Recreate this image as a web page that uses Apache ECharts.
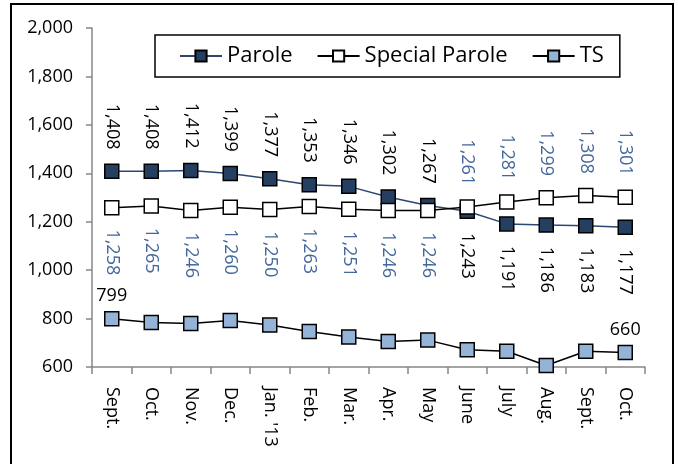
<!DOCTYPE html>
<html>
<head>
<meta charset="utf-8">
<script src="https://cdn.jsdelivr.net/npm/echarts@6/dist/echarts.min.js"></script>
<style>
  html, body { margin: 0; padding: 0; background: #fff; }
  #chart { width: 678px; height: 464px; }
</style>
</head>
<body>
<div id="chart"></div>
<script>
var months = ['Sept.', 'Oct.', 'Nov.', 'Dec.', 'Jan. \'13', 'Feb.', 'Mar.', 'Apr.', 'May', 'June', 'July', 'Aug.', 'Sept.', 'Oct.'];
var parole = [1408, 1408, 1412, 1399, 1377, 1353, 1346, 1302, 1267, 1243, 1191, 1186, 1183, 1177];
var specialParole = [1258, 1265, 1246, 1260, 1250, 1263, 1251, 1246, 1246, 1261, 1281, 1299, 1308, 1301];
var ts = [799, 784, 780, 792, 773, 747, 724, 705, 711, 671, 665, 606, 665, 660];

var FONT = 'Open Sans';

var fmt = function(v){
	return String(v).replace(/\B(?=(\d{3})+(?!\d))/g, ',');
};

// label goes above for the higher of the two parole series, below for the lower
var sideLabel = function(up, color){
	return up ? {
		show: true, position: 'top', distance: 14, rotate: -90,
		align: 'right', verticalAlign: 'middle',
		color: color, fontSize: 18, fontFamily: FONT, formatter: function(p){ return fmt(p.value); }
	} : {
		show: true, position: 'bottom', distance: 14, rotate: -90,
		align: 'left', verticalAlign: 'middle',
		color: color, fontSize: 18, fontFamily: FONT, formatter: function(p){ return fmt(p.value); }
	};
};

var paroleData = parole.map(function(v, i){
	return { value: v, label: sideLabel(v > specialParole[i], '#000') };
});
var specialData = specialParole.map(function(v, i){
	return { value: v, label: sideLabel(v > parole[i], '#44679c') };
});
var tsData = ts.map(function(v, i){
	var show = (i === 0 || i === ts.length - 1);
	return { value: v, label: { show: show, position: 'top', distance: 6, color: '#000', fontSize: 18, fontFamily: FONT } };
});

var chart = echarts.init(document.getElementById('chart'));
chart.setOption({
	animation: false,
	backgroundColor: '#fff',
	graphic: [
		{
			type: 'rect',
			shape: { x: 11, y: 4, width: 662, height: 480 },
			style: { fill: 'none', stroke: '#000', lineWidth: 2 },
			silent: true
		}
	],
	grid: { left: 92, right: 33, top: 28, bottom: 97 },
	legend: {
		left: 155, top: 35,
		padding: [10, 16, 10, 24],
		borderColor: '#000', borderWidth: 1.5,
		itemWidth: 42, itemHeight: 14, itemGap: 24,
		textStyle: { fontSize: 22, fontFamily: FONT, color: '#000' },
		data: ['Parole', 'Special Parole', 'TS']
	},
	xAxis: {
		type: 'category',
		data: months,
		boundaryGap: true,
		axisLine: { lineStyle: { color: '#878787', width: 1.5 } },
		axisTick: { show: true, length: 7, lineStyle: { color: '#878787', width: 1.5 } },
		axisLabel: { rotate: -90, margin: 20, fontSize: 18, fontFamily: FONT, color: '#000', interval: 0 }
	},
	yAxis: {
		type: 'value',
		min: 600, max: 2000, interval: 200,
		splitLine: { show: false },
		axisLine: { show: true, lineStyle: { color: '#878787', width: 1.5 } },
		axisTick: { show: true, length: 6, lineStyle: { color: '#878787', width: 1.5 } },
		axisLabel: { margin: 19, fontSize: 18, fontFamily: FONT, color: '#000', formatter: fmt }
	},
	series: [
		{
			name: 'Parole', type: 'line', data: paroleData,
			symbol: 'rect', symbolSize: 14,
			lineStyle: { color: '#2c4770', width: 1.5 },
			itemStyle: { color: '#243f60', borderColor: '#000', borderWidth: 1.5 }
		},
		{
			name: 'Special Parole', type: 'line', data: specialData,
			symbol: 'rect', symbolSize: 14,
			lineStyle: { color: '#000', width: 1.5 },
			itemStyle: { color: '#fff', borderColor: '#000', borderWidth: 1.5 }
		},
		{
			name: 'TS', type: 'line', data: tsData,
			symbol: 'rect', symbolSize: 14,
			lineStyle: { color: '#000', width: 1.5 },
			itemStyle: { color: '#95b3d7', borderColor: '#000', borderWidth: 1.5 }
		}
	]
});
</script>
</body>
</html>
